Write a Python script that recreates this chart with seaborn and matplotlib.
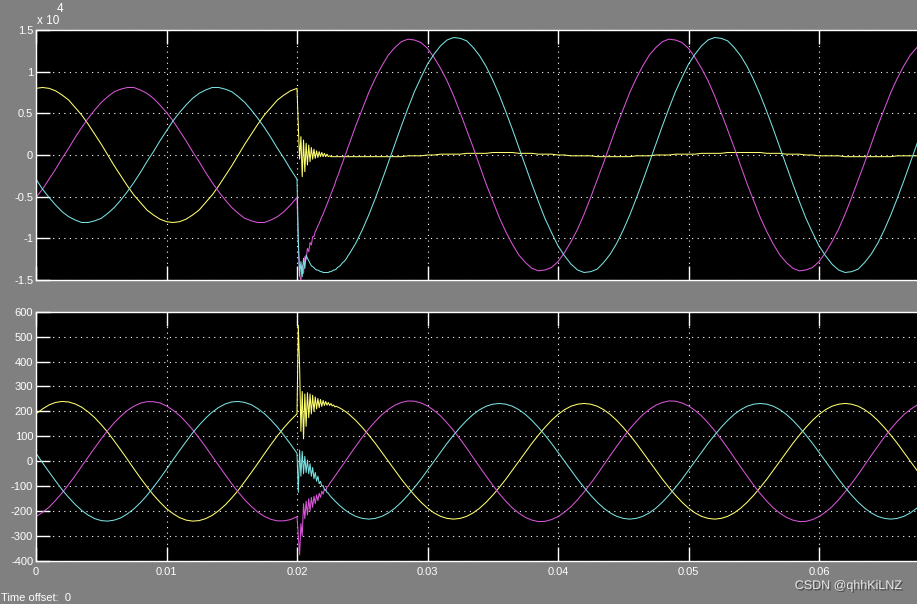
import numpy as np
import seaborn as sns
import matplotlib.pyplot as plt
import matplotlib.patheffects as pe
from matplotlib.ticker import FuncFormatter

# Scope capture: three-phase voltage (top, x10^4) and current (bottom), fault at t = 0.02 s

# sample times (ms): 1 ms steps, 0.1 ms steps through the fault transient, then 1 ms again
time_ms = np.concatenate([
    np.arange(0, 21),
    np.round(np.arange(20.1, 24.05, 0.1), 1),
    np.arange(25, 69),
])
# extra readings taken halfway between the whole-ms ones (outside the transient)
time_half_ms = np.concatenate([np.arange(0.5, 20, 1), np.arange(24.5, 68, 1)])

# ---- top panel, voltage in units of 1e4 ----
volt_yellow = [
    # 0 .. 20 ms
    0.80, 0.80, 0.72, 0.57, 0.37, 0.13, -0.13, -0.37, -0.57, -0.72, -0.80,
    -0.80, -0.72, -0.57, -0.37, -0.13, 0.13, 0.37, 0.57, 0.72, 0.80,
    # 20.1 .. 24.0 ms
    0.35, -0.05, 0.22, -0.26, 0.18, -0.20, 0.14, -0.12, 0.12, -0.08,
    0.09, -0.05, 0.07, -0.04, 0.05, -0.03, 0.04, -0.02, 0.03, -0.02,
    0.02, -0.02, 0.01, -0.02, -0.01, -0.02, -0.02, -0.02, -0.02, -0.02,
    -0.02, -0.02, -0.02, -0.02, -0.02, -0.02, -0.02, -0.02, -0.02, -0.02,
    # 25 .. 68 ms
    -0.02, -0.02, -0.02, -0.02, -0.01, 0.00, 0.01, 0.01, 0.02, 0.02,
    0.03, 0.03, 0.02, 0.02, 0.01, 0.00, -0.01, -0.01, -0.02, -0.02,
    -0.02, -0.01, -0.01, 0.00, 0.01, 0.01, 0.02, 0.02, 0.03, 0.03,
    0.03, 0.02, 0.02, 0.01, 0.00, -0.01, -0.01, -0.02, -0.02, -0.02,
    -0.02, -0.01, -0.01, -0.01,
]
volt_yellow_half = [
    # 0.5 .. 19.5 ms
    0.81, 0.77, 0.66, 0.48, 0.25, 0.00, -0.25, -0.48, -0.66, -0.77,
    -0.81, -0.77, -0.66, -0.48, -0.25, 0.00, 0.25, 0.48, 0.66, 0.77,
    # 24.5 .. 67.5 ms
    -0.02, -0.02, -0.02, -0.02, -0.01, -0.01, 0.00, 0.01, 0.01, 0.02,
    0.02, 0.03, 0.03, 0.02, 0.01, 0.01, 0.00, -0.01, -0.01, -0.02,
    -0.02, -0.02, -0.01, 0.00, 0.00, 0.01, 0.01, 0.02, 0.02, 0.03,
    0.03, 0.03, 0.02, 0.01, 0.01, 0.00, -0.01, -0.01, -0.02, -0.02,
    -0.02, -0.02, -0.01, -0.01,
]
volt_magenta = [
    -0.51, -0.29, -0.04, 0.21, 0.44, 0.63, 0.76, 0.81, 0.78, 0.68, 0.51,
    0.29, 0.04, -0.21, -0.44, -0.63, -0.76, -0.81, -0.78, -0.68, -0.51,
    -1.10, -1.45, -1.50, -1.32, -1.42, -1.22, -1.25, -1.12, -1.16, -1.05,
    -1.08, -0.98, -0.98, -0.92, -0.89, -0.85, -0.82, -0.78, -0.74, -0.71,
    -0.67, -0.63, -0.59, -0.55, -0.51, -0.47, -0.43, -0.39, -0.35, -0.30,
    -0.26, -0.22, -0.17, -0.13, -0.09, -0.04, 0.00, 0.04, 0.09, 0.13,
    0.55, 0.92, 1.20, 1.36, 1.38, 1.28, 1.04, 0.71, 0.30, -0.13,
    -0.55, -0.92, -1.20, -1.36, -1.38, -1.28, -1.04, -0.71, -0.30, 0.13,
    0.55, 0.92, 1.20, 1.36, 1.38, 1.28, 1.04, 0.71, 0.30, -0.13,
    -0.55, -0.92, -1.20, -1.36, -1.38, -1.28, -1.04, -0.71, -0.30, 0.13,
    0.55, 0.92, 1.20, 1.36,
]
volt_magenta_half = [
    -0.41, -0.17, 0.08, 0.33, 0.54, 0.70, 0.79, 0.81, 0.74, 0.60,
    0.41, 0.17, -0.08, -0.33, -0.54, -0.70, -0.79, -0.81, -0.74, -0.60,
    0.35, 0.75, 1.07, 1.29, 1.39, 1.35, 1.17, 0.89, 0.51, 0.09,
    -0.35, -0.75, -1.07, -1.29, -1.39, -1.35, -1.17, -0.89, -0.51, -0.09,
    0.35, 0.75, 1.07, 1.29, 1.39, 1.35, 1.17, 0.89, 0.51, 0.09,
    -0.35, -0.75, -1.07, -1.29, -1.39, -1.35, -1.17, -0.89, -0.51, -0.09,
    0.35, 0.75, 1.07, 1.29,
]
volt_cyan = [
    -0.29, -0.51, -0.68, -0.78, -0.81, -0.76, -0.63, -0.44, -0.21, 0.04, 0.29,
    0.51, 0.68, 0.78, 0.81, 0.76, 0.63, 0.44, 0.21, -0.04, -0.29,
    -1.00, -1.45, -1.28, -1.46, -1.24, -1.36, -1.20, -1.24, -1.27, -1.30,
    -1.33, -1.34, -1.35, -1.37, -1.38, -1.38, -1.39, -1.40, -1.40, -1.41,
    -1.41, -1.41, -1.41, -1.41, -1.40, -1.40, -1.39, -1.38, -1.38, -1.37,
    -1.35, -1.34, -1.33, -1.31, -1.29, -1.28, -1.26, -1.24, -1.21, -1.19,
    -0.90, -0.52, -0.09, 0.35, 0.76, 1.09, 1.31, 1.41, 1.37, 1.19,
    0.90, 0.52, 0.09, -0.35, -0.76, -1.09, -1.31, -1.41, -1.37, -1.19,
    -0.90, -0.52, -0.09, 0.35, 0.76, 1.09, 1.31, 1.41, 1.37, 1.19,
    0.90, 0.52, 0.09, -0.35, -0.76, -1.09, -1.31, -1.41, -1.37, -1.19,
    -0.90, -0.52, -0.09, 0.35,
]
volt_cyan_half = [
    -0.41, -0.60, -0.74, -0.81, -0.79, -0.70, -0.54, -0.33, -0.08, 0.17,
    0.41, 0.60, 0.74, 0.81, 0.79, 0.70, 0.54, 0.33, 0.08, -0.17,
    -1.06, -0.72, -0.31, 0.13, 0.56, 0.93, 1.21, 1.38, 1.40, 1.29,
    1.06, 0.72, 0.31, -0.13, -0.56, -0.93, -1.21, -1.38, -1.40, -1.29,
    -1.06, -0.72, -0.31, 0.13, 0.56, 0.93, 1.21, 1.38, 1.40, 1.29,
    1.06, 0.72, 0.31, -0.13, -0.56, -0.93, -1.21, -1.38, -1.40, -1.29,
    -1.06, -0.72, -0.31, 0.13,
]

# ---- bottom panel, current ----
curr_yellow = [
    190, 226, 240, 230, 198, 147, 81, 8, -67, -135, -190,
    -226, -240, -230, -198, -147, -81, -8, 67, 135, 190,
    545, 380, 120, 280, 90, 270, 140, 275, 175, 270,
    190, 265, 200, 258, 210, 252, 215, 248, 220, 244,
    224, 240, 225, 236, 224, 232, 222, 226, 218, 221,
    218, 216, 213, 210, 207, 203, 200, 196, 192, 188,
    136, 72, 0, -72, -136, -188, -221, -232, -221, -188,
    -136, -72, 0, 72, 136, 188, 221, 232, 221, 188,
    136, 72, 0, -72, -136, -188, -221, -232, -221, -188,
    -136, -72, 0, 72, 136, 188, 221, 232, 221, 188,
    136, 72, 0, -72,
]
curr_yellow_half = [
    210, 236, 238, 217, 175, 116, 45, -30, -102, -164,
    -210, -236, -238, -217, -175, -116, -45, 30, 102, 164,
    164, 105, 36, -36, -105, -164, -207, -229, -229, -207,
    -164, -105, -36, 36, 105, 164, 207, 229, 229, 207,
    164, 105, 36, -36, -105, -164, -207, -229, -229, -207,
    -164, -105, -36, 36, 105, 164, 207, 229, 229, 207,
    164, 105, 36, -36,
]
curr_magenta = [
    -222, -184, -127, -58, 17, 90, 155, 204, 233, 239, 222,
    184, 127, 58, -17, -90, -155, -204, -233, -239, -222,
    -300, -375, -250, -300, -170, -230, -160, -215, -150, -200,
    -145, -185, -140, -170, -135, -158, -128, -145, -120, -132,
    -112, -118, -103, -100, -89, -82, -75, -68, -60, -53,
    -45, -38, -30, -23, -15, -8, 0, 8, 15, 23,
    96, 160, 208, 236, 241, 222, 182, 123, 53, -23,
    -96, -160, -208, -236, -241, -222, -182, -123, -53, 23,
    96, 160, 208, 236, 241, 222, 182, 123, 53, -23,
    -96, -160, -208, -236, -241, -222, -182, -123, -53, 23,
    96, 160, 208, 236,
]
curr_magenta_half = [
    -205, -157, -93, -20, 54, 124, 181, 221, 239, 234,
    205, 157, 93, 20, -54, -124, -181, -221, -239, -234,
    60, 130, 187, 225, 242, 234, 204, 154, 89, 15,
    -60, -130, -187, -225, -242, -234, -204, -154, -89, -15,
    60, 130, 187, 225, 242, 234, 204, 154, 89, 15,
    -60, -130, -187, -225, -242, -234, -204, -154, -89, -15,
    60, 130, 187, 225,
]
curr_cyan = [
    32, -43, -114, -173, -216, -238, -236, -211, -166, -104, -32,
    43, 114, 173, 216, 238, 236, 211, 166, 104, 32,
    -125, 45, -60, 40, -50, 20, -45, 5, -50, -10,
    -60, -25, -70, -45, -80, -60, -90, -80, -100, -98,
    -112, -115, -125, -128, -136, -142, -148, -153, -159, -164,
    -169, -174, -179, -183, -188, -192, -196, -200, -203, -207,
    -229, -229, -207, -164, -105, -36, 36, 105, 164, 207,
    229, 229, 207, 164, 105, 36, -36, -105, -164, -207,
    -229, -229, -207, -164, -105, -36, 36, 105, 164, 207,
    229, 229, 207, 164, 105, 36, -36, -105, -164, -207,
    -229, -229, -207, -164,
]
curr_cyan_half = [
    -6, -79, -145, -197, -230, -240, -227, -191, -137, -69,
    6, 79, 145, 197, 230, 240, 227, 191, 137, 69,
    -221, -232, -221, -188, -136, -72, 0, 72, 136, 188,
    221, 232, 221, 188, 136, 72, 0, -72, -136, -188,
    -221, -232, -221, -188, -136, -72, 0, 72, 136, 188,
    221, 232, 221, 188, 136, 72, 0, -72, -136, -188,
    -221, -232, -221, -188,
]

volt_ticks = [-1.5, -1, -0.5, 0, 0.5, 1, 1.5]
curr_ticks = [-400, -300, -200, -100, 0, 100, 200, 300, 400, 500, 600]
time_ticks = [0, 0.01, 0.02, 0.03, 0.04, 0.05, 0.06]

COLORS = {"yellow": "#ffff70", "magenta": "#d855d8", "cyan": "#7ae2e2"}
BG = "#808080"

sns.set_theme(style="dark")
plt.rcParams["font.family"] = ["Liberation Sans", "DejaVu Sans"]
plt.rcParams["axes.unicode_minus"] = False

W, H = 917, 604
fig = plt.figure(figsize=(W / 100, H / 100), dpi=100, facecolor=BG)

x_left = 36 / W
x_width = 0.07 * 13050 / W  # axes runs past the right edge, as in the crop
ax_top = fig.add_axes([x_left, 1 - 280 / H, x_width, 250 / H])
ax_bot = fig.add_axes([x_left, 1 - 561 / H, x_width, 249.3 / H])

# all sample times in seconds (whole-ms + transient readings, then half-ms readings)
time_s = np.concatenate([time_ms, time_half_ms]) / 1000.0
panels = [
    (ax_top, [(volt_yellow, volt_yellow_half), (volt_magenta, volt_magenta_half),
              (volt_cyan, volt_cyan_half)], (-1.5, 1.5), volt_ticks),
    (ax_bot, [(curr_yellow, curr_yellow_half), (curr_magenta, curr_magenta_half),
              (curr_cyan, curr_cyan_half)], (-400, 600), curr_ticks),
]

for ax, series, ylim, yticks in panels:
    ax.set_facecolor("black")
    for (vals, vals_half), name in zip(series, ["yellow", "magenta", "cyan"]):
        y = np.concatenate([vals, vals_half])
        # seaborn sorts the readings by time before drawing
        sns.lineplot(x=time_s, y=y, ax=ax, color=COLORS[name],
                     linewidth=0.75, estimator=None, sort=True)
    ax.set_xlim(0, 0.07)
    ax.set_ylim(*ylim)
    ax.set_xticks(time_ticks)
    ax.set_yticks(yticks)
    ax.grid(True, color="white", linestyle=(0, (1, 4)), linewidth=0.8)
    ax.tick_params(direction="in", length=10, width=1, color="white",
                   labelcolor="white", labelsize=8, pad=2,
                   top=True, right=True, bottom=True, left=True)
    ax.tick_params(axis="x", pad=4)
    ax.yaxis.set_major_formatter(FuncFormatter(lambda v, p: f"{v:g}"))
    ax.xaxis.set_major_formatter(FuncFormatter(lambda v, p: f"{v:g}"))
    for side in ["left", "top", "bottom", "right"]:
        ax.spines[side].set_color("white")
        ax.spines[side].set_linewidth(1)
    ax.set_xlabel("")
    ax.set_ylabel("")

ax_top.tick_params(labelbottom=False)

fig.text(37 / W, 1 - 21 / H, "x 10", color="white", fontsize=8.5,
         ha="left", va="center")
fig.text(57 / W, 1 - 9 / H, "4", color="white", fontsize=8.5,
         ha="left", va="center")
fig.text(1 / W, 1 - 598 / H, "Time offset:  0", color="white", fontsize=8,
         ha="left", va="center")
fig.text(902 / W, 1 - 586 / H, "CSDN @qhhKiLNZ", color="#e6e6e6", fontsize=9,
         ha="right", va="center",
         path_effects=[pe.SimplePatchShadow(offset=(1, -1), shadow_rgbFace="#303030", alpha=0.7),
                       pe.Normal()])

fig.savefig("out.png", dpi=100, facecolor=BG)
